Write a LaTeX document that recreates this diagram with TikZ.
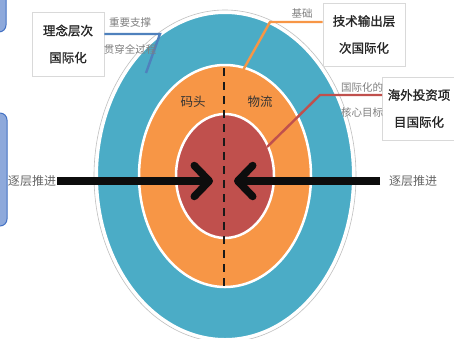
\documentclass[tikz,border=0pt]{standalone}
\usepackage{fontspec}
\newfontfamily\cjk{Noto Sans CJK SC}
\newfontfamily\cjkb[FakeBold=1.2]{Noto Sans CJK SC}
\usetikzlibrary{arrows.meta}
\definecolor{tealc}{HTML}{4BACC6}
\definecolor{orangec}{HTML}{F79646}
\definecolor{redc}{HTML}{C0504D}
\definecolor{bluec}{HTML}{4F81BD}
\definecolor{sidefill}{HTML}{8EA9DB}
\definecolor{sidedraw}{HTML}{4472C4}
\definecolor{graytxt}{HTML}{7F7F7F}
\definecolor{boxline}{HTML}{D9D9D9}
\tikzset{
  infobox/.style={draw=boxline, line width=0.6pt, fill=white, align=center, font=\cjkb\fontsize{12.5}{27}\selectfont, text=black!85, inner sep=0pt},
  graylbl/.style={font=\cjk\fontsize{10.5}{12}\selectfont, text=graytxt, inner sep=0pt},
  ringlbl/.style={font=\cjk\fontsize{12.5}{14}\selectfont, text=black!80, inner sep=0pt},
  sidelbl/.style={font=\cjk\fontsize{12}{14}\selectfont, text=black!60, inner sep=0pt},
  bigarrow/.style={line width=7.5pt, -{Straight Barb[length=15pt, width=31pt, round]}, black!95},
  sidebox/.style={rounded corners=7pt, fill=sidefill, draw=sidedraw, line width=1pt},
  connector/.style={line width=2.4pt}
}
\begin{document}
\begin{tikzpicture}[x=1pt,y=-1pt]
\useasboundingbox (0,0) rectangle (454,338);
\fill[white] (0,0) rectangle (454,338);
\begin{scope}
\clip (0,0) rectangle (454,338);
% side boxes
\draw[sidebox] (-30,-20) rectangle (6,32);
\draw[sidebox] (-30,113) rectangle (7,226);
% rings
\coordinate (c) at (225,176);
\draw[black!25, line width=0.6pt] (c) ellipse [x radius=131, y radius=166];
\draw[fill=tealc, draw=white, line width=2pt] (c) ellipse [x radius=128, y radius=163];
\draw[fill=orangec, draw=white, line width=2.5pt] (c) ellipse [x radius=86, y radius=111];
\draw[fill=redc, draw=white, line width=2.5pt] (c) ellipse [x radius=49, y radius=62];
\end{scope}
% dashed axis
\coordinate (dtop) at (224,68);
\coordinate (dbot) at (224,289);
\draw[black!90, line width=2.3pt, dash pattern=on 8pt off 6pt] (dtop) -- (dbot);
% ring labels
\node[ringlbl] (matou) at (193,102) {码头};
\node[ringlbl] (wuliu) at (260,102) {物流};
% boxes
\node[infobox, minimum width=72pt, minimum height=64pt] (box1) at (68,44) {理念层次\\国际化};
\node[infobox, minimum width=82pt, minimum height=63pt] (box2) at (364,34.5) {技术输出层\\次国际化};
\node[infobox, minimum width=73pt, minimum height=63pt] (box3) at (419,108.5) {海外投资项\\目国际化};
% connectors
\coordinate (b1k) at (160,34);
\coordinate (b1e) at (146,73);
\draw[connector, bluec] (box1.east |- b1k) -- (b1k) -- (b1e);
\coordinate (b2k) at (270,22);
\coordinate (b2e) at (242,72);
\draw[connector, orangec] (box2.west |- b2k) -- (b2k) -- (b2e);
\coordinate (b3k) at (320,95);
\coordinate (b3e) at (267,147);
\draw[connector, redc] (box3.west |- b3k) -- (b3k) -- (b3e);
% gray labels
\node[graylbl] (l1) at (130,23) {重要支撑};
\node[graylbl] (l2) at (130,49) {贯穿全过程};
\node[graylbl] (l3) at (302,13) {基础};
\node[graylbl] (l4) at (362,87) {国际化的};
\node[graylbl] (l5) at (362,112) {核心目标};
% arrows
\coordinate (la) at (57,181);
\coordinate (lt) at (213,181);
\coordinate (ra) at (380,181);
\coordinate (rt) at (234,181);
\draw[bigarrow] (la) -- (lt);
\draw[bigarrow] (ra) -- (rt);
\node[sidelbl] (sl) at (32,181) {逐层推进};
\node[sidelbl] (sr) at (413,181) {逐层推进};
\end{tikzpicture}
\end{document}
